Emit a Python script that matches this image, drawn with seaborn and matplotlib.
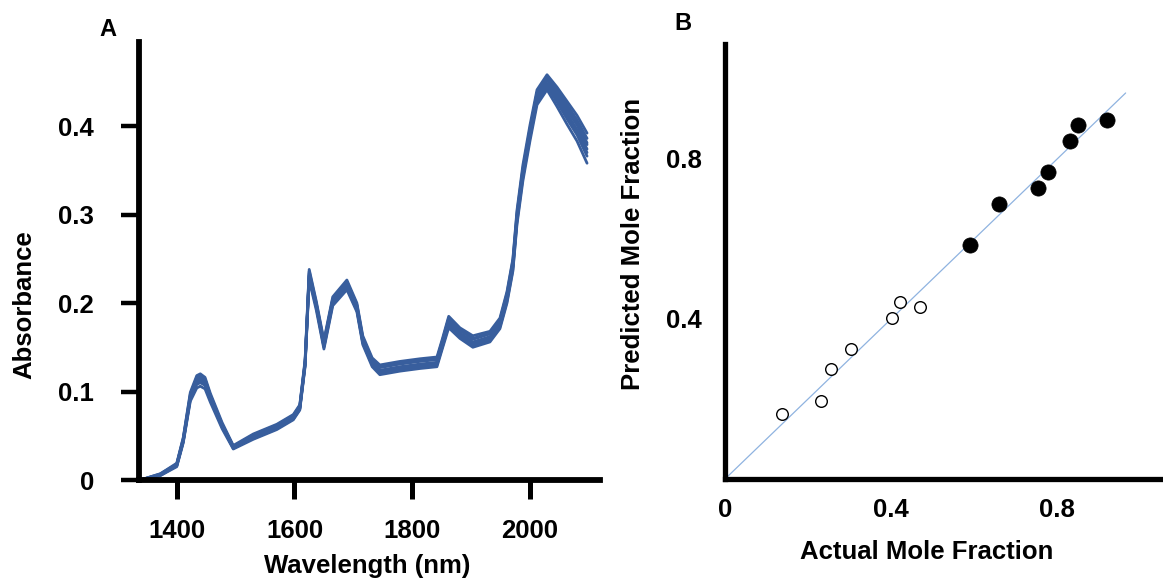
import numpy as np
import pandas as pd
import matplotlib
matplotlib.use("Agg")
import matplotlib.pyplot as plt
import seaborn as sns

# ---------------- Panel A: NIR absorbance spectra ----------------
wavelength_nm = [1338, 1372, 1400, 1411, 1423, 1434, 1440, 1448, 1457, 1477,
                 1496, 1530, 1570, 1598, 1609, 1618, 1625, 1637, 1650, 1665,
                 1689, 1706, 1716, 1732, 1745, 1779, 1813, 1842, 1851, 1862,
                 1881, 1903, 1932, 1949, 1961, 1971, 1978, 1988, 2000, 2012,
                 2029, 2046, 2063, 2080, 2097]

spectrum_1 = [0.000, 0.006, 0.017, 0.045, 0.094, 0.113, 0.115, 0.111, 0.094, 0.062,
              0.037, 0.049, 0.060, 0.071, 0.082, 0.132, 0.234, 0.198, 0.153, 0.203,
              0.221, 0.195, 0.158, 0.133, 0.124, 0.128, 0.131, 0.133, 0.153, 0.179,
              0.166, 0.156, 0.162, 0.177, 0.207, 0.243, 0.297, 0.347, 0.392, 0.433,
              0.452, 0.435, 0.418, 0.401, 0.379]
spectrum_2 = [0.000, 0.007, 0.019, 0.048, 0.099, 0.118, 0.120, 0.116, 0.098, 0.065,
              0.039, 0.052, 0.063, 0.074, 0.085, 0.136, 0.238, 0.202, 0.158, 0.207,
              0.226, 0.200, 0.163, 0.138, 0.130, 0.134, 0.137, 0.139, 0.159, 0.185,
              0.172, 0.163, 0.168, 0.183, 0.213, 0.250, 0.305, 0.356, 0.401, 0.441,
              0.458, 0.444, 0.428, 0.412, 0.392]
spectrum_3 = [0.000, 0.005, 0.015, 0.042, 0.089, 0.104, 0.106, 0.103, 0.088, 0.058,
              0.035, 0.046, 0.057, 0.068, 0.079, 0.128, 0.226, 0.192, 0.148, 0.197,
              0.215, 0.190, 0.153, 0.128, 0.119, 0.123, 0.126, 0.128, 0.148, 0.172,
              0.160, 0.150, 0.156, 0.171, 0.200, 0.236, 0.289, 0.338, 0.383, 0.424,
              0.441, 0.422, 0.402, 0.383, 0.358]
spectrum_4 = [0.000, 0.006, 0.016, 0.043, 0.091, 0.108, 0.110, 0.107, 0.091, 0.060,
              0.036, 0.048, 0.059, 0.070, 0.081, 0.130, 0.230, 0.196, 0.151, 0.201,
              0.219, 0.193, 0.156, 0.131, 0.122, 0.127, 0.130, 0.132, 0.151, 0.177,
              0.164, 0.154, 0.160, 0.175, 0.205, 0.241, 0.296, 0.348, 0.395, 0.438,
              0.455, 0.441, 0.424, 0.407, 0.386]
spectrum_5 = [0.000, 0.007, 0.018, 0.047, 0.097, 0.116, 0.118, 0.114, 0.096, 0.063,
              0.038, 0.050, 0.061, 0.072, 0.083, 0.133, 0.231, 0.199, 0.155, 0.204,
              0.223, 0.197, 0.160, 0.135, 0.127, 0.131, 0.134, 0.136, 0.156, 0.182,
              0.169, 0.159, 0.165, 0.180, 0.209, 0.245, 0.299, 0.350, 0.393, 0.432,
              0.448, 0.430, 0.411, 0.393, 0.370]
spectrum_6 = [0.000, 0.005, 0.016, 0.044, 0.092, 0.110, 0.112, 0.108, 0.092, 0.061,
              0.036, 0.047, 0.058, 0.069, 0.080, 0.130, 0.228, 0.195, 0.150, 0.199,
              0.217, 0.192, 0.155, 0.130, 0.121, 0.125, 0.128, 0.130, 0.150, 0.175,
              0.162, 0.152, 0.158, 0.173, 0.202, 0.238, 0.292, 0.342, 0.387, 0.428,
              0.445, 0.427, 0.408, 0.390, 0.366]
spectrum_7 = [0.000, 0.006, 0.018, 0.046, 0.095, 0.114, 0.116, 0.113, 0.095, 0.063,
              0.038, 0.051, 0.062, 0.073, 0.084, 0.134, 0.236, 0.200, 0.156, 0.205,
              0.224, 0.198, 0.161, 0.136, 0.128, 0.132, 0.135, 0.137, 0.157, 0.183,
              0.170, 0.160, 0.166, 0.181, 0.211, 0.248, 0.302, 0.352, 0.397, 0.437,
              0.453, 0.437, 0.420, 0.403, 0.381]
spectrum_8 = [0.000, 0.006, 0.017, 0.044, 0.093, 0.111, 0.113, 0.109, 0.093, 0.061,
              0.037, 0.048, 0.059, 0.070, 0.081, 0.131, 0.232, 0.197, 0.152, 0.202,
              0.220, 0.194, 0.157, 0.132, 0.123, 0.127, 0.130, 0.132, 0.152, 0.178,
              0.165, 0.155, 0.161, 0.176, 0.206, 0.242, 0.295, 0.345, 0.390, 0.430,
              0.447, 0.432, 0.414, 0.396, 0.374]

spectra = [spectrum_1, spectrum_2, spectrum_3, spectrum_4,
           spectrum_5, spectrum_6, spectrum_7, spectrum_8]

absorbance_ticks = [0, 0.1, 0.2, 0.3, 0.4]
absorbance_labels = ["0", "0.1", "0.2", "0.3", "0.4"]
wavelength_ticks = [1400, 1600, 1800, 2000]

# ---------------- Panel B: predicted vs actual mole fraction ----------------
train_actual = [0.590, 0.660, 0.755, 0.778, 0.831, 0.851, 0.921]
train_predicted = [0.586, 0.688, 0.728, 0.767, 0.844, 0.884, 0.897]
test_actual = [0.138, 0.232, 0.255, 0.303, 0.402, 0.422, 0.470]
test_predicted = [0.163, 0.195, 0.274, 0.326, 0.403, 0.443, 0.429]
identity_line = [0.0, 0.965]
fraction_ticks = [0, 0.4, 0.8]

# ---------------- Styling ----------------
sns.set_style("white")
plt.rcParams["font.family"] = ["Liberation Sans", "DejaVu Sans"]
plt.rcParams["font.weight"] = "bold"
plt.rcParams["axes.labelweight"] = "bold"
for key in ["text.color", "axes.labelcolor", "xtick.color", "ytick.color",
            "axes.edgecolor"]:
    plt.rcParams[key] = "black"

FS = 18.5
spec_color = "#385e9d"

fig = plt.figure(figsize=(11.63, 5.82), dpi=100)
W, H = 1163, 582

def frac_box(x0, y_top, x1, y_bottom):
    return [x0 / W, 1 - y_bottom / H, (x1 - x0) / W, (y_bottom - y_top) / H]

axA = fig.add_axes(frac_box(138.5, 42, 600, 480))
axB = fig.add_axes(frac_box(725, 44, 1163, 479))

# Panel A
long_rows = []
for i, s in enumerate(spectra):
    for wl, a in zip(wavelength_nm, s):
        long_rows.append({"wavelength": wl, "absorbance": a, "sample": i})
spec_df = pd.DataFrame(long_rows)

sns.lineplot(data=spec_df, x="wavelength", y="absorbance", units="sample",
             estimator=None, color=spec_color, lw=2.0, ax=axA, legend=False)

axA.set_xlim(1335, 2119)
axA.set_ylim(0, 0.495)
axA.set_yticks(absorbance_ticks)
axA.set_yticklabels(absorbance_labels)
axA.set_xticks(wavelength_ticks)
axA.set_xticklabels([str(t) for t in wavelength_ticks])
axA.tick_params(axis="y", direction="out", length=13, width=3.2, pad=19,
                labelsize=FS, color="black", left=True)
axA.tick_params(axis="x", direction="out", length=14, width=3.6, pad=14,
                labelsize=FS, color="black", bottom=True)
for lab in axA.get_xticklabels() + axA.get_yticklabels():
    lab.set_fontweight("bold")
for side in ["top", "right"]:
    axA.spines[side].set_visible(False)
for side in ["left", "bottom"]:
    axA.spines[side].set_linewidth(4.2)
    axA.spines[side].set_color("black")
axA.set_xlabel("Wavelength (nm)", fontsize=FS, fontweight="bold")
axA.set_ylabel("Absorbance", fontsize=FS, fontweight="bold")
axA.xaxis.set_label_coords(0.495, -0.168)
axA.yaxis.set_label_coords(-0.222, 0.40)

# Panel B
test_df = pd.DataFrame({"actual": test_actual, "predicted": test_predicted})
train_df = pd.DataFrame({"actual": train_actual, "predicted": train_predicted})
line_df = pd.DataFrame({"x": identity_line, "y": identity_line})

sns.lineplot(data=line_df, x="x", y="y", color="#8fb3e0", lw=0.9, ax=axB,
             legend=False)
sns.scatterplot(data=test_df, x="actual", y="predicted", s=70, facecolor="white",
                edgecolor="black", linewidth=1.0, ax=axB, zorder=3)
sns.scatterplot(data=train_df, x="actual", y="predicted", s=120, color="black",
                edgecolor="black", linewidth=0.5, ax=axB, zorder=3)

axB.set_xlim(0, 1.055)
axB.set_ylim(0, 1.0875)
axB.set_xticks(fraction_ticks)
axB.set_xticklabels(["0", "0.4", "0.8"])
axB.set_yticks(fraction_ticks[1:])
axB.set_yticklabels(["0.4", "0.8"])
axB.tick_params(axis="both", length=0, labelsize=FS)
axB.tick_params(axis="x", pad=14)
axB.tick_params(axis="y", pad=17)
for lab in axB.get_xticklabels() + axB.get_yticklabels():
    lab.set_fontweight("bold")
for side in ["top", "right"]:
    axB.spines[side].set_visible(False)
for side in ["left", "bottom"]:
    axB.spines[side].set_linewidth(3.8)
    axB.spines[side].set_color("black")
axB.set_xlabel("Actual Mole Fraction", fontsize=FS, fontweight="bold")
axB.set_ylabel("Predicted Mole Fraction", fontsize=FS, fontweight="bold")
axB.xaxis.set_label_coords(0.46, -0.14)
axB.yaxis.set_label_coords(-0.183, 0.54)

# Panel letters
fig.text(108 / W, 1 - 29 / H, "A", fontsize=17, fontweight="bold",
         ha="center", va="center")
fig.text(683 / W, 1 - 23 / H, "B", fontsize=17, fontweight="bold",
         ha="center", va="center")

fig.savefig("out.png", dpi=100, facecolor="white")
